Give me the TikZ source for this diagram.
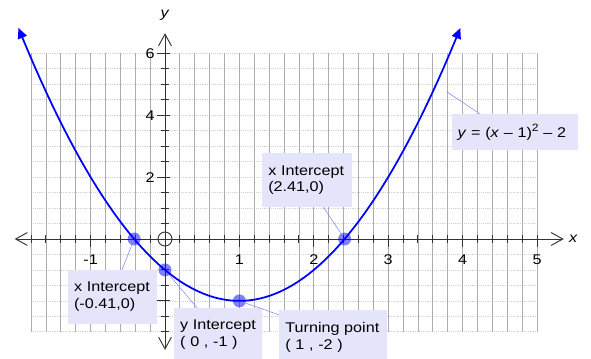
\documentclass[tikz,border=0pt]{standalone}
\usepackage{fontspec}
\setmainfont{Liberation Sans}[FakeStretch=1.15]
\usepackage{xcolor}
\usepackage{tikz}
\usetikzlibrary{arrows.meta, calc}
\definecolor{labelbg}{RGB}{228,228,250}

\begin{document}
\begin{tikzpicture}[
  x=2.232cm, y=0.9285cm,
  every node/.style={font=\fontsize{12}{14.3}\selectfont},
  vgrid/.style={gray!65, line width=0.7pt},
  hgrid/.style={gray!35, densely dotted, line width=0.6pt},
  axisline/.style={black!80, line width=0.8pt,
    {Straight Barb[length=10pt,width=11pt]}-{Straight Barb[length=10pt,width=11pt]}},
  tickmark/.style={black!80, line width=0.8pt},
  parab/.style={blue, line width=1.5pt,
    {Triangle[length=9pt,width=8pt]}-{Triangle[length=9pt,width=8pt]}},
  ptdot/.style={circle, fill=blue, fill opacity=0.5, minimum size=0.39cm, inner sep=0pt},
  lead/.style={blue!45, line width=0.5pt},
  tag/.style={fill=labelbg, anchor=north west, align=left, inner xsep=0.18cm, inner ysep=0.36cm},
]
\useasboundingbox (-2.2177,-3.845) rectangle (5.7258,7.722);
\clip (-2.2177,-3.845) rectangle (5.7258,7.722);
% Grid
\foreach \j in {-6,...,12} \draw[hgrid] (-1.8,\j/2) -- (5,\j/2);
\foreach \i in {-9,...,25} \draw[vgrid] (\i/5,-3) -- (\i/5,6);
% Axes
\draw[axisline] (-2.02,0) -- (5.36,0);
\draw[axisline] (0,-3.58) -- (0,6.65);
\foreach \i in {-9,...,25} \draw[tickmark] (\i/5,0.13) -- (\i/5,-0.13);
\foreach \i in {-1,...,5} \draw[tickmark] (\i,0.13) -- (\i,-0.26);
\foreach \j in {-6,...,12} \draw[tickmark] (-0.054,\j/2) -- (0.054,\j/2);
\foreach \j in {-2,2,4,6} \draw[tickmark] (-0.11,\j) -- (0.065,\j);
\foreach \x in {-1,1,2,3,4,5} \node (xl\x) at (\x,-0.66) {\x};
\foreach \y in {2,4,6} \node (yl\y) at (-0.2,\y) {\y};
\node (xlab) at (5.49,0) {\textit{x}};
\node (ylab) at (0,7.23) {\textit{y}};
% Curve and points
\draw[parab] plot[domain=-1.97:3.97, samples=80] (\x, {(\x-1)^2-2});
\node[circle, draw=black!80, line width=0.8pt, minimum size=0.42cm, inner sep=0pt] (orig) at (0,0) {};
\node[ptdot] (xint1) at (-0.414,0) {};
\node[ptdot] (yint)  at (0,-1) {};
\node[ptdot] (turn)  at (1,-2) {};
\node[ptdot] (xint2) at (2.414,0) {};
\coordinate (eqpt) at (3.786,4.759);
% Labels
\node[tag, text width=2.31cm] (xint1lbl) at (-1.3055,-1.0) {x Intercept\\(-0.41,0)};
\node[tag, text width=2.28cm] (yintlbl)  at (0.121,-2.226) {y Intercept\\( 0 , -1 )};
\node[tag, text width=2.88cm] (turnlbl)  at (1.534,-2.290) {Turning point\\( 1 , -2 )};
\node[tag, text width=2.34cm] (xint2lbl) at (1.3055,2.774) {x Intercept\\(2.41,0)};
\node[tag, text width=3.42cm, inner ysep=0.28cm] (eqlbl) at (3.849,4.032)
  {\textit{y} = (\textit{x} – 1)\raisebox{0.85ex}{\fontsize{9}{9}\selectfont 2} – 2};
\draw[lead] (xint1) -- ([xshift=0.28cm]xint1lbl.north);
\draw[lead] (yint) -- ([xshift=-0.63cm]yintlbl.north);
\draw[lead] (turn) -- ([yshift=-0.15cm]turnlbl.north west);
\draw[lead] (xint2) -- ([xshift=0.48cm]xint2lbl.south);
\draw[lead] (eqpt) -- ([xshift=0.87cm]eqlbl.north west);
\end{tikzpicture}
\end{document}
